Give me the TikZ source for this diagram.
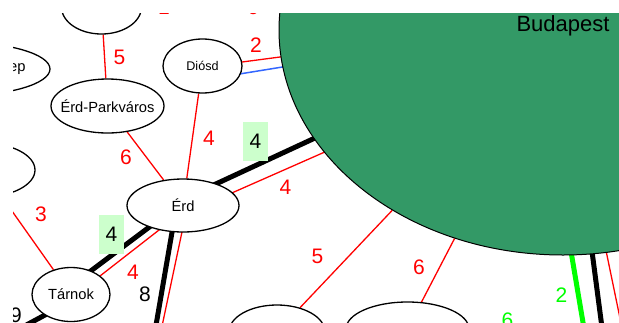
\documentclass[tikz,border=0pt]{standalone}
\usepackage{fontspec}
\setmainfont{Liberation Sans}
\usetikzlibrary{shapes.geometric,backgrounds}
\definecolor{verdebp}{RGB}{51,153,102}
\definecolor{verdecaja}{RGB}{204,255,204}
\definecolor{azul}{RGB}{51,102,255}
\definecolor{verdelinea}{RGB}{0,255,0}
\tikzset{
	parada/.style={ellipse, draw, fill=white, line width=1.3pt, inner sep=0pt, minimum height=54pt, font=\fontsize{14.7}{17}\selectfont},
	num/.style={inner sep=0pt, text=red, font=\fontsize{21}{24}\selectfont},
	numcaja/.style={num, text=black, fill=verdecaja, minimum width=25pt, minimum height=39pt},
	roja/.style={red, line width=1.3pt},
	negra/.style={black, line width=5pt},
	verde/.style={verdelinea, line width=5pt},
	azulada/.style={azul, line width=1.5pt}
}
\newcommand{\nombre}[1]{\makebox[0pt]{#1}}

\begin{document}
\begin{tikzpicture}[x=1pt, y=-1pt]
	\useasboundingbox (0,0) rectangle (619,322);
	\begin{scope}
		\clip (13,13) rectangle (619,322);
		% Paradas
		\node[parada, minimum width=568pt, minimum height=450pt, fill=verdebp, line width=1pt, font=\fontsize{22}{26}\selectfont, text depth=12pt] (buda) at (563,30) {Budapest};
		\node[parada, minimum width=80pt] (torok) at (101.5,7) {\nombre{Törökbálint}};
		\node[parada, minimum width=113pt] (parkv) at (107.5,106) {\nombre{Érd-Parkváros}};
		\node[parada, minimum width=79pt, font=\fontsize{12.6}{15}\selectfont] (diosd) at (202.5,66) {\nombre{Diósd}};
		\node[parada, minimum width=112pt, minimum height=53pt] (erd) at (183,205.5) {\nombre{Érd}};
		\node[parada, minimum width=78pt] (tarnok) at (71,294.5) {\nombre{Tárnok}};
		\node[parada, minimum width=186pt, label={[font=\fontsize{14.7}{17}\selectfont, inner sep=0pt, anchor=east, xshift=-25pt]east:ep}] (oeste) at (-43,69) {};
		\node[parada, minimum width=104pt] (izq) at (-17,170) {};
		\node[parada, minimum width=96pt] (sur1) at (277,332) {};
		\node[parada, minimum width=123pt] (sur2) at (407.5,329) {};
		\coordinate (abajo) at (140,430);
		\coordinate (suroeste) at (-100,393);
		\coordinate (sureste) at (624.6,500);

		% Numeros
		\node[num] (l1) at (164,7) {1};
		\node[num] (l2) at (253,7) {6};
		\node[num] (l3) at (119.5,57.5) {5};
		\node[num] (l4) at (256,45.5) {2};
		\node[num] (l5) at (209,138) {4};
		\node[num] (l6) at (126,157) {6};
		\node[numcaja] (l7) at (255.5,141.5) {4};
		\node[num] (l8) at (285.5,187.5) {4};
		\node[num] (l9) at (41,214) {3};
		\node[numcaja] (l10) at (111.5,234.5) {4};
		\node[num] (l11) at (133,272.5) {4};
		\node[num, text=black] (l12) at (145,294.5) {8};
		\node[num, text=black] (l13) at (16,315.5) {9};
		\node[num] (l14) at (317.5,256) {5};
		\node[num] (l15) at (419,267) {6};
		\node[num, text=verdelinea] (l16) at (561.5,295.5) {2};
		\node[num, text=verdelinea] (l17) at (507.5,320.5) {6};
	\end{scope}

	% Lineas
	\begin{scope}[on background layer]
		\clip (13,13) rectangle (619,322);
		\draw[roja] (torok) -- (parkv);
		\draw[roja] (parkv) -- (erd);
		\draw[roja] (diosd) -- (erd);
		\draw[roja] ([yshift=-1.2pt]diosd.center) -- ([yshift=10.2pt]buda.center);
		\draw[azulada] ([yshift=-14pt]diosd.center) -- ([yshift=8.6pt]buda.center);
		\draw[negra] ([yshift=6.3pt]erd.center) -- ([yshift=7pt]buda.center);
		\draw[roja] ([yshift=-9pt]erd.center) -- ([yshift=-17pt]buda.center);
		\draw[negra] ([yshift=3.75pt]erd.center) -- ([yshift=8.75pt]tarnok.center);
		\draw[roja] ([yshift=-5.8pt]erd.center) -- ([yshift=-4.1pt]tarnok.center);
		\draw[negra] ([xshift=-6.4pt]erd.center) -- ([xshift=-2pt]abajo);
		\draw[roja] ([xshift=4.6pt]erd.center) -- (abajo);
		\draw[negra] ([yshift=-6.5pt]tarnok.center) -- (suroeste);
		\draw[roja] (tarnok) -- (izq);
		\draw[roja] (buda) -- (sur1);
		\draw[roja] (buda) -- (sur2);
		\draw[verde] ([xshift=-29.4pt]buda.center) -- ([xshift=-11.6pt]sureste);
		\draw[negra] (buda.center) -- (sureste);
		\draw[roja] ([xshift=-2.6pt]buda.center) -- ([xshift=33pt]sureste);
	\end{scope}
\end{tikzpicture}
\end{document}
